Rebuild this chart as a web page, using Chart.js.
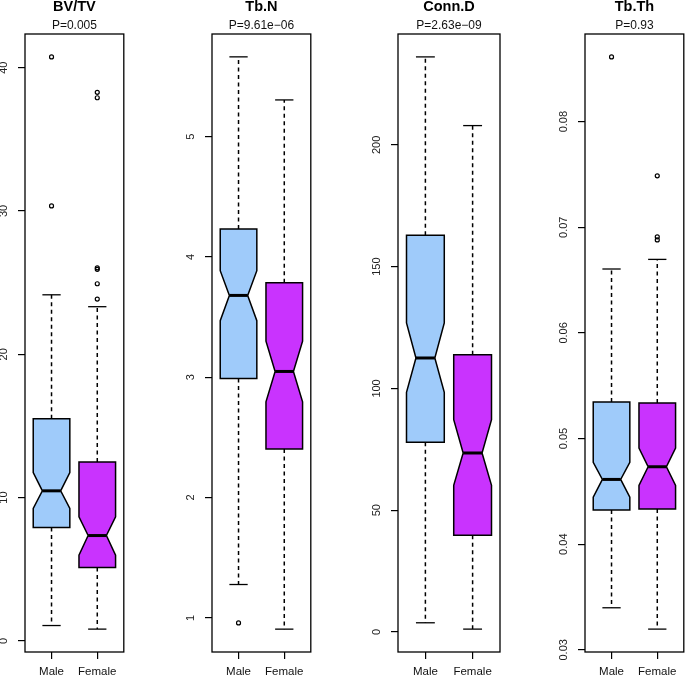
<!DOCTYPE html>
<html lang="en">
<head>
<meta charset="UTF-8">
<title>Bone parameters by sex</title>
<script src="https://cdn.jsdelivr.net/npm/chart.js"></script>
<style>
  html, body { margin: 0; padding: 0; background: #fff; overflow: hidden; }
  #wrap { position: relative; width: 685px; height: 677px; }
  #wrap canvas { position: absolute; top: 0; }
</style>
</head>
<body>
<div id="wrap"></div>
<script>
const categories = ['Male', 'Female'];
const titles = ['BV/TV', 'Tb.N', 'Conn.D', 'Tb.Th'];
const pValues = ['P=0.005', 'P=9.61e\u221206', 'P=2.63e\u221209', 'P=0.93'];

// lower whisker, Q1, notch low, median, notch high, Q3, upper whisker
const bvtvMale   = [1.07, 7.91, 9.24, 10.47, 11.75, 15.5, 24.15];
const bvtvFemale = [0.82, 5.12, 5.98, 7.35, 8.65, 12.49, 23.32];
const tbnMale    = [1.277, 2.99, 3.47, 3.68, 3.886, 4.232, 5.663];
const tbnFemale  = [0.906, 2.403, 2.796, 3.048, 3.30, 3.786, 5.305];
const connMale   = [3.8, 77.9, 98.4, 112.5, 126.9, 162.9, 236.1];
const connFemale = [1.2, 39.7, 60.2, 73.5, 87.2, 113.8, 207.9];
const tbthMale   = [0.03398, 0.04323, 0.04446, 0.04613, 0.04774, 0.05345, 0.06605];
const tbthFemale = [0.03196, 0.04332, 0.04556, 0.04733, 0.04910, 0.05336, 0.06696];

// outliers
const bvtvMaleOut   = [30.35, 40.75];
const bvtvFemaleOut = [23.85, 24.92, 25.93, 26.03, 37.9, 38.28];
const tbnMaleOut    = [0.958];
const tbnFemaleOut  = [];
const connMaleOut   = [];
const connFemaleOut = [];
const tbthMaleOut   = [0.08613];
const tbthFemaleOut = [0.0688, 0.0691, 0.07487];

// axes
const yMin = [-0.777, 0.716, -8.196, 0.029793];
const yMax = [42.35, 5.853, 245.5, 0.088297];
const yTicks = [
  [0, 10, 20, 30, 40],
  [1, 2, 3, 4, 5],
  [0, 50, 100, 150, 200],
  [0.03, 0.04, 0.05, 0.06, 0.07, 0.08]
];
const yTickLabels = [
  ['0', '10', '20', '30', '40'],
  ['1', '2', '3', '4', '5'],
  ['0', '50', '100', '150', '200'],
  ['0.03', '0.04', '0.05', '0.06', '0.07', '0.08']
];

const stats = [[bvtvMale, bvtvFemale], [tbnMale, tbnFemale], [connMale, connFemale], [tbthMale, tbthFemale]];
const outliers = [[bvtvMaleOut, bvtvFemaleOut], [tbnMaleOut, tbnFemaleOut], [connMaleOut, connFemaleOut], [tbthMaleOut, tbthFemaleOut]];
const fills = ['#9fcbfa', '#c933fe'];

const FONT = '"Liberation Sans", Arial, Helvetica, sans-serif';
Chart.defaults.font.family = FONT;
Chart.defaults.color = '#111';

const frameLeft = [25, 212, 398, 585];
// chart.js keeps 3px extra on the right of these panels, so the canvas is 3px wider
const AXW = 30, PW = 99, CW = AXW + PW + 5;

const meas = document.createElement('canvas').getContext('2d');
meas.font = '11px ' + FONT;

// notched boxes, whiskers and medians drawn through the chart scales
function boxPlugin(panelStats) {
  return {
    id: 'notchBoxes',
    beforeDatasetsDraw(chart) {
      const ctx = chart.ctx;
      const X = v => chart.scales.x.getPixelForValue(v);
      const Y = v => chart.scales.y.getPixelForValue(v);
      const seg = (x1, y1, x2, y2) => { ctx.beginPath(); ctx.moveTo(x1, y1); ctx.lineTo(x2, y2); ctx.stroke(); };
      panelStats.forEach((s, i) => {
        const c = i + 1, w = 0.4, wn = 0.2;
        const [lo, q1, nLo, med, nHi, q3, hi] = s;
        ctx.save();
        ctx.strokeStyle = '#000';
        ctx.lineWidth = 1.5;
        ctx.setLineDash([4, 3.5]);
        seg(X(c), Y(q3), X(c), Y(hi));
        seg(X(c), Y(q1), X(c), Y(lo));
        ctx.setLineDash([]);
        ctx.lineWidth = 1.3;
        seg(X(c - 0.2), Y(hi), X(c + 0.2), Y(hi));
        seg(X(c - 0.2), Y(lo), X(c + 0.2), Y(lo));
        ctx.beginPath();
        ctx.moveTo(X(c - w), Y(q1));
        ctx.lineTo(X(c - w), Y(nLo));
        ctx.lineTo(X(c - wn), Y(med));
        ctx.lineTo(X(c - w), Y(nHi));
        ctx.lineTo(X(c - w), Y(q3));
        ctx.lineTo(X(c + w), Y(q3));
        ctx.lineTo(X(c + w), Y(nHi));
        ctx.lineTo(X(c + wn), Y(med));
        ctx.lineTo(X(c + w), Y(nLo));
        ctx.lineTo(X(c + w), Y(q1));
        ctx.closePath();
        ctx.fillStyle = fills[i];
        ctx.fill();
        ctx.lineWidth = 1.5;
        ctx.lineJoin = 'miter';
        ctx.stroke();
        ctx.lineWidth = 3;
        seg(X(c - wn), Y(med), X(c + wn), Y(med));
        ctx.restore();
      });
    },
    afterDraw(chart) {
      const a = chart.chartArea, ctx = chart.ctx;
      ctx.save();
      ctx.strokeStyle = '#000';
      ctx.lineWidth = 1.3;
      ctx.strokeRect(a.left, a.top, a.right - a.left, a.bottom - a.top);
      ctx.restore();
    }
  };
}

const wrap = document.getElementById('wrap');
titles.forEach((title, p) => {
  const cv = document.createElement('canvas');
  cv.width = CW; cv.height = 677;
  cv.style.left = (frameLeft[p] - AXW) + 'px';
  wrap.appendChild(cv);

  const widest = Math.max(...yTickLabels[p].map(t => meas.measureText(t).width));
  const yPad = 21.5 - 7 - widest / 2;

  new Chart(cv, {
    type: 'scatter',
    data: {
      datasets: categories.map((cat, i) => ({
        label: cat,
        data: outliers[p][i].map(v => ({ x: i + 1, y: v })),
        pointRadius: 2,
        pointBorderWidth: 1.2,
        pointBorderColor: '#000',
        pointBackgroundColor: 'rgba(0,0,0,0)'
      }))
    },
    options: {
      responsive: false,
      animation: false,
      events: [],
      layout: { padding: { left: 0, right: 2, top: 0, bottom: 0 } },
      plugins: {
        legend: { display: false },
        tooltip: { enabled: false },
        title: {
          display: true, text: title, fullSize: false, color: '#000',
          font: { size: 14.5, weight: 'bold', lineHeight: 1 },
          padding: { top: 0, bottom: 5 }
        },
        subtitle: {
          display: true, text: pValues[p], fullSize: false, color: '#111',
          font: { size: 12, lineHeight: 1 },
          padding: { top: 0, bottom: 2.5 }
        }
      },
      scales: {
        x: {
          type: 'linear', min: 0.42, max: 2.58,
          afterBuildTicks: s => { s.ticks = [{ value: 1 }, { value: 2 }]; },
          afterFit: s => { s.height = 25; s.paddingLeft = 0; s.paddingRight = 0; },
          ticks: {
            autoSkip: false, maxRotation: 0, padding: 6, color: '#111',
            font: { size: 11.5 },
            callback: (v, idx) => categories[idx]
          },
          grid: { drawOnChartArea: false, drawTicks: true, tickLength: 7, color: '#000', lineWidth: 1.2 },
          border: { display: false }
        },
        y: {
          type: 'linear', min: yMin[p], max: yMax[p],
          afterBuildTicks: s => { s.ticks = yTicks[p].map(v => ({ value: v })); },
          afterFit: s => { s.width = AXW; s.paddingTop = 0; s.paddingBottom = 0; },
          ticks: {
            autoSkip: false, minRotation: 90, maxRotation: 90, crossAlign: 'center',
            padding: yPad, color: '#222', font: { size: 11 },
            callback: (v, idx) => yTickLabels[p][idx]
          },
          grid: { drawOnChartArea: false, drawTicks: true, tickLength: 7, color: '#000', lineWidth: 1.2 },
          border: { display: false }
        }
      }
    },
    plugins: [boxPlugin(stats[p])]
  });
});
</script>
</body>
</html>
